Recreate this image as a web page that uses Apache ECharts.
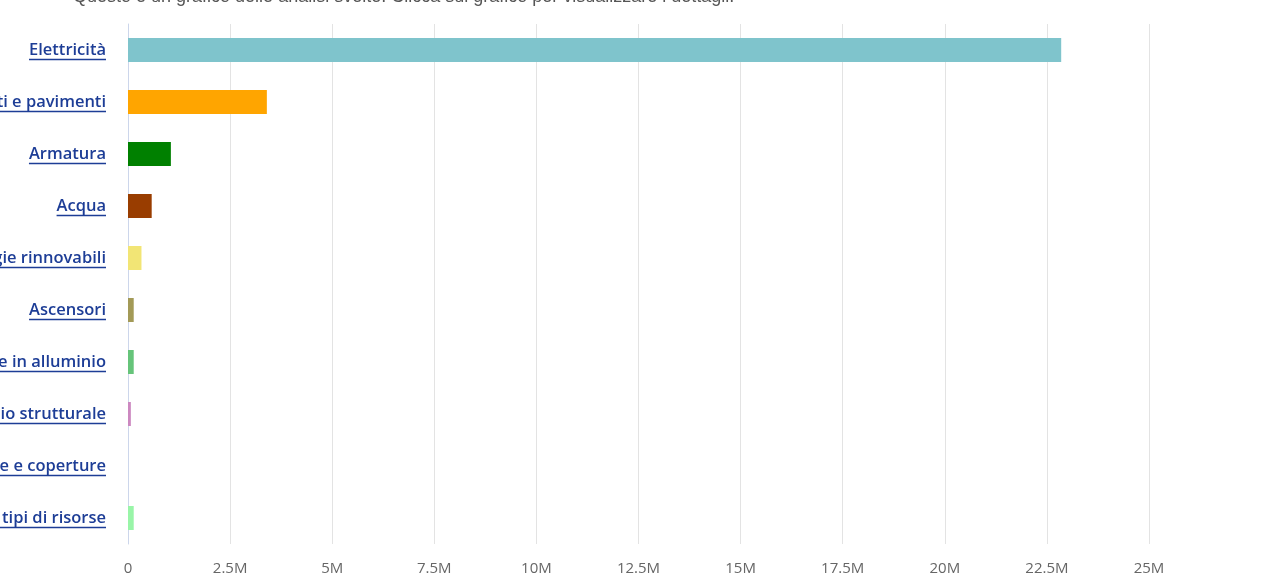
<!DOCTYPE html>
<html>
<head>
<meta charset="utf-8">
<script src="https://cdn.jsdelivr.net/npm/echarts@6/dist/echarts.min.js"></script>
<style>
html,body{margin:0;padding:0;background:#fff;}
#chart{width:1285px;height:586px;}
</style>
</head>
<body>
<div id="chart"></div>
<script>
var categories = ['Elettricità','Rivestimenti e pavimenti','Armatura','Acqua','Energie rinnovabili','Ascensori','Finestre in alluminio','Acciaio strutturale','Facciate e coperture','Altri tipi di risorse'];
var values = [22850000, 3400000, 1050000, 580000, 330000, 140000, 140000, 70000, 0, 140000];
var barColors = ['#7fc4cc','#ffa500','#008000','#993d00','#f2e575','#a39a57','#66c47a','#cc88c0','#9a9ae0','#99f5a8'];
var tickValues = [0, 2500000, 5000000, 7500000, 10000000, 12500000, 15000000, 17500000, 20000000, 22500000, 25000000];
var subtitle = 'Questo è un grafico delle analisi svelte. Clicca sul grafico per visualizzare i dettagli.';

var labelSize = 16.5;
var labelFont = '600 ' + labelSize + 'px "Open Sans"';
var labelColor = '#1d3d96';
var labelMargin = 22;
var mctx = document.createElement('canvas').getContext('2d');
mctx.font = labelFont;

var chart = echarts.init(document.getElementById('chart'), null, {renderer:'canvas'});
chart.setOption({
  animation: false,
  backgroundColor: '#ffffff',
  graphic: [{
    type: 'text', left: 73, top: -12,
    style: {text: subtitle, font: '18px "Liberation Sans"', fill: '#555'}
  }],
  grid: {left: 128, right: 136, top: 24, bottom: 42, containLabel: false, outerBoundsMode: 'none'},
  xAxis: {
    type: 'value', min: 0, max: tickValues[tickValues.length-1], interval: tickValues[1]-tickValues[0],
    axisLine: {show: false}, axisTick: {show: false},
    splitLine: {show: true, lineStyle: {color: '#e3e3e3', width: 1}},
    axisLabel: {
      color: '#666', fontFamily: 'Open Sans', fontSize: 15, margin: 17,
      formatter: function(v){ return v === 0 ? '0' : (v/1e6) + 'M'; }
    }
  },
  yAxis: {
    type: 'category', data: categories, inverse: true,
    axisLine: {show: true, lineStyle: {color: '#ccd6eb', width: 1}},
    axisTick: {show: false},
    axisLabel: {color: labelColor, fontFamily: 'Open Sans', fontWeight: 600, fontSize: labelSize, margin: labelMargin}
  },
  series: [{
    type: 'bar', barWidth: 24,
    data: values.map(function(v,i){ return {value: v, itemStyle: {color: barColors[i]}}; })
  }, {
    type: 'custom', silent: true, clip: false,
    encode: {x: 0, y: 1},
    data: categories.map(function(c,i){ return [0, i]; }),
    renderItem: function(params, api){
      var p = api.coord([0, api.value(1)]);
      var right = p[0] - labelMargin;
      var w = mctx.measureText(categories[params.dataIndex]).width;
      var y = Math.round(p[1] + 9) + 0.5;
      return {type: 'line', shape: {x1: right - w, y1: y, x2: right, y2: y},
              style: {stroke: labelColor, lineWidth: 1.3}};
    }
  }]
});
</script>
</body>
</html>
